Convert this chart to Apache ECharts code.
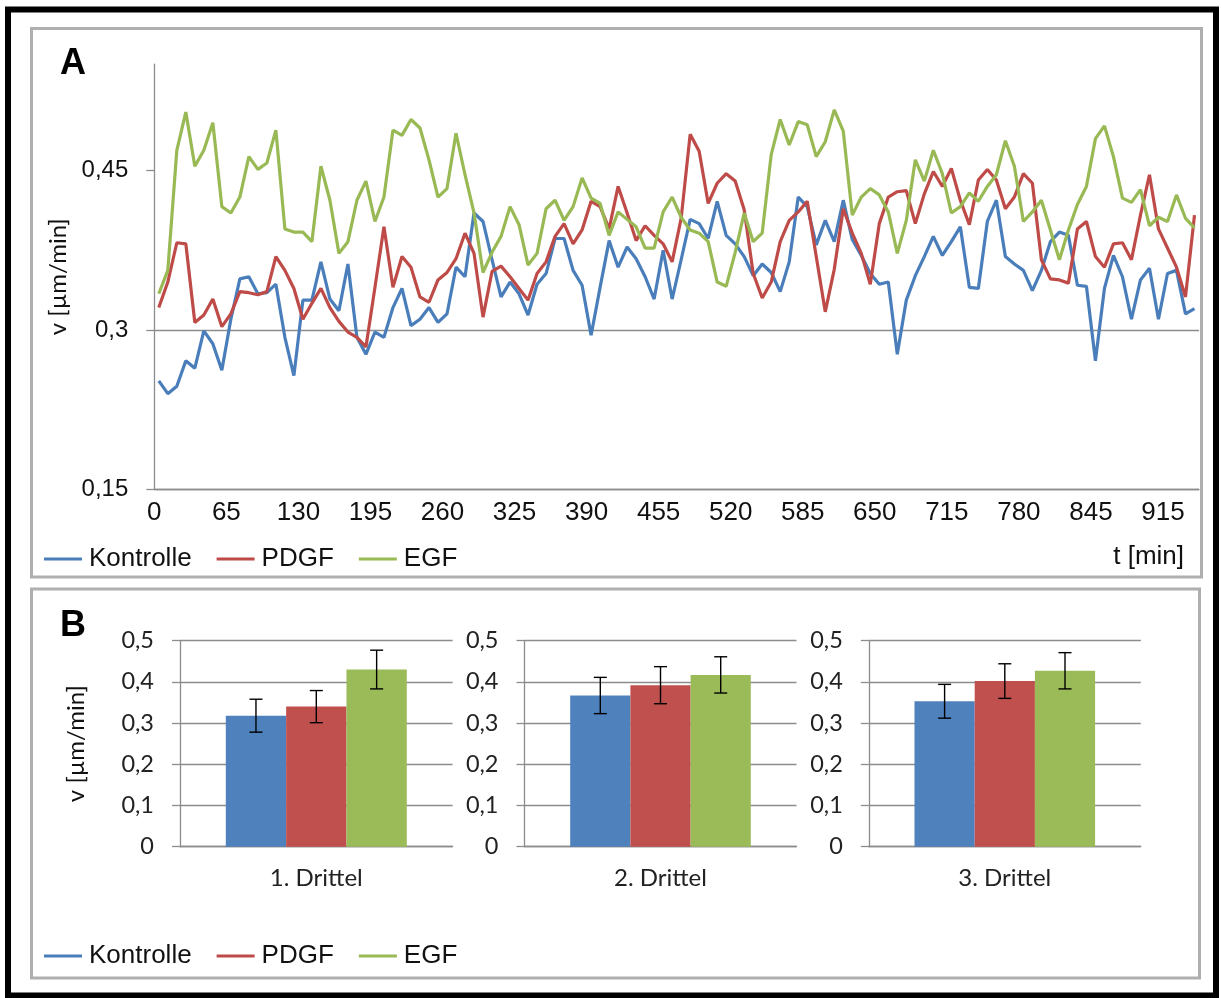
<!DOCTYPE html>
<html>
<head>
<meta charset="utf-8">
<script src="https://cdn.jsdelivr.net/npm/echarts@6/dist/echarts.min.js"></script>
<style>
html,body{margin:0;padding:0;background:#fff;}
#chart{width:1221px;height:998px;}
</style>
</head>
<body>
<div id="chart"></div>
<script>
// ---------- Panel A data (t every ~8 min, 116 samples) ----------
const kontrolle = [0.252,0.240,0.247,0.271,0.264,0.299,0.287,0.262,0.310,0.348,
0.350,0.334,0.335,0.343,0.293,0.257,0.328,0.328,0.364,0.329,
0.318,0.362,0.293,0.277,0.298,0.293,0.321,0.339,0.304,0.310,
0.321,0.307,0.315,0.359,0.350,0.410,0.402,0.366,0.331,0.345,
0.334,0.314,0.343,0.353,0.386,0.386,0.356,0.342,0.295,0.340,
0.384,0.359,0.378,0.367,0.350,0.329,0.375,0.329,0.366,0.404,
0.400,0.386,0.421,0.389,0.381,0.369,0.351,0.362,0.354,0.336,
0.364,0.425,0.416,0.380,0.403,0.383,0.422,0.385,0.370,0.353,
0.343,0.345,0.277,0.328,0.351,0.369,0.388,0.370,0.383,0.397,
0.340,0.339,0.402,0.422,0.369,0.362,0.356,0.337,0.356,0.383,
0.392,0.389,0.342,0.341,0.271,0.339,0.370,0.350,0.310,0.347,
0.358,0.310,0.353,0.356,0.315,0.320];
const pdgf = [0.321,0.345,0.382,0.381,0.307,0.314,0.329,0.303,0.315,0.336,
0.335,0.333,0.336,0.369,0.356,0.339,0.310,0.325,0.339,0.321,
0.308,0.298,0.293,0.284,0.340,0.397,0.340,0.369,0.359,0.331,
0.326,0.347,0.354,0.367,0.391,0.372,0.312,0.355,0.360,0.350,
0.339,0.328,0.353,0.364,0.388,0.400,0.381,0.394,0.421,0.416,
0.395,0.435,0.410,0.384,0.398,0.389,0.381,0.364,0.405,0.484,
0.468,0.419,0.438,0.447,0.440,0.413,0.353,0.330,0.345,0.383,
0.403,0.411,0.421,0.369,0.317,0.357,0.414,0.391,0.372,0.343,
0.400,0.425,0.430,0.431,0.400,0.428,0.449,0.435,0.452,0.422,
0.399,0.441,0.451,0.441,0.414,0.425,0.447,0.438,0.366,0.348,
0.347,0.344,0.395,0.402,0.369,0.359,0.381,0.382,0.366,0.408,
0.446,0.395,0.377,0.359,0.331,0.408];
const egf = [0.334,0.356,0.469,0.505,0.454,0.469,0.495,0.416,0.410,0.425,
0.463,0.451,0.457,0.488,0.395,0.392,0.392,0.383,0.454,0.422,
0.372,0.383,0.422,0.440,0.402,0.425,0.488,0.483,0.498,0.490,
0.460,0.425,0.433,0.485,0.446,0.410,0.354,0.373,0.388,0.416,
0.399,0.361,0.372,0.414,0.422,0.403,0.416,0.443,0.424,0.419,
0.389,0.411,0.404,0.397,0.377,0.377,0.411,0.425,0.406,0.394,
0.391,0.383,0.345,0.341,0.373,0.410,0.383,0.391,0.465,0.498,
0.474,0.496,0.493,0.463,0.477,0.507,0.487,0.408,0.425,0.433,
0.427,0.411,0.372,0.403,0.460,0.440,0.469,0.447,0.410,0.416,
0.429,0.421,0.435,0.446,0.478,0.454,0.402,0.411,0.422,0.394,
0.366,0.394,0.418,0.435,0.480,0.492,0.463,0.424,0.420,0.432,
0.398,0.406,0.402,0.427,0.405,0.396];
const tickLabels = ['0','65','130','195','260','325','390','455','520','585','650','715','780','845','915'];
const samplesPerTick = 8;
const yTicksA = [0.15, 0.3, 0.45];

// ---------- Panel B data ----------
const thirds = ['1. Drittel','2. Drittel','3. Drittel'];
const barKontrolle = [0.318, 0.367, 0.353];
const barPdgf      = [0.340, 0.392, 0.402];
const barEgf       = [0.430, 0.417, 0.427];
const errKontrolle = [0.040, 0.044, 0.041];
const errPdgf      = [0.039, 0.045, 0.042];
const errEgf       = [0.047, 0.044, 0.044];

const names = ['Kontrolle','PDGF','EGF'];
const lineColors = ['#4A7EBB','#BE4B48','#98B954'];
const barColors = ['#4F81BD','#C0504D','#9BBB59'];
const gridGray = '#8C8C8C';
const fontA = '"Liberation Sans", Arial, sans-serif';
const fontB = 'Lato, "Open Sans", sans-serif';
const comma = v => String(+(+v).toFixed(2)).replace('.', ',');

const categories = kontrolle.map((_, i) => i);
const BAR_GAP = '33.6%';
const gapFrac = 0.336;

const chart = echarts.init(document.getElementById('chart'), null, {renderer: 'canvas'});

const grids = [
  {left: 154.3, top: 64.2, width: 1044.7, height: 425.1, outerBoundsMode: 'none'},
  {left: 180, top: 640.7, width: 272.6, height: 206, outerBoundsMode: 'none'},
  {left: 524.5, top: 640.7, width: 272, height: 206, outerBoundsMode: 'none'},
  {left: 868.8, top: 640.7, width: 272, height: 206, outerBoundsMode: 'none'}
];

const xAxes = [{
  type: 'category', gridIndex: 0, data: categories, boundaryGap: true,
  axisLine: {lineStyle: {color: gridGray, width: 1.3}},
  axisTick: {interval: samplesPerTick - 1, length: 8, lineStyle: {color: gridGray, width: 1.3}},
  axisLabel: {
    interval: samplesPerTick - 1, margin: 11, color: '#111', fontSize: 26, fontFamily: fontA,
    padding: [0, 9, 0, 0],
    formatter: (v, i) => (i % samplesPerTick === 0 && tickLabels[i / samplesPerTick] !== undefined) ? tickLabels[i / samplesPerTick] : ''
  },
  splitLine: {show: false}
}];
const yAxes = [{
  type: 'value', gridIndex: 0, min: 0.15, max: 0.55, interval: 0.15,
  name: 'v [µm/min]', nameLocation: 'middle', nameGap: 84, nameRotate: 90,
  nameTextStyle: {fontSize: 24, fontFamily: fontB, color: '#111'},
  axisLine: {show: true, lineStyle: {color: gridGray, width: 1.3}},
  axisTick: {show: true, length: 8, customValues: yTicksA, lineStyle: {color: gridGray, width: 1.3}},
  axisLabel: {margin: 26, color: '#111', fontSize: 24, fontFamily: fontA, customValues: yTicksA, formatter: comma},
  splitLine: {show: true, showMaxLine: false, lineStyle: {color: gridGray, width: 1.3}}
}];

for (let k = 0; k < 3; k++) {
  xAxes.push({
    type: 'category', gridIndex: k + 1, data: [thirds[k]], boundaryGap: true,
    axisLine: {lineStyle: {color: gridGray, width: 1.3}},
    axisTick: {length: 8, lineStyle: {color: gridGray, width: 1.3}},
    axisLabel: {margin: 20, color: '#222', fontSize: 24, fontFamily: fontB}
  });
  yAxes.push({
    type: 'value', gridIndex: k + 1, min: 0, max: 0.5, interval: 0.1,
    name: k === 0 ? 'v [µm/min]' : '', nameLocation: 'middle', nameGap: 92, nameRotate: 90,
    nameTextStyle: {fontSize: 24, fontFamily: fontB, color: '#111'},
    axisLine: {show: true, lineStyle: {color: gridGray, width: 1.3}},
    axisTick: {show: true, length: 8, lineStyle: {color: gridGray, width: 1.3}},
    axisLabel: {margin: 26, color: '#222', fontSize: 23.5, fontFamily: fontB, formatter: comma},
    splitLine: {show: true, lineStyle: {color: gridGray, width: 1.3}}
  });
}

const series = [];
[kontrolle, pdgf, egf].forEach((arr, s) => {
  series.push({
    type: 'line', name: names[s], xAxisIndex: 0, yAxisIndex: 0, data: arr,
    symbol: 'none', smooth: false, animation: false,
    lineStyle: {color: lineColors[s], width: 3.2}, itemStyle: {color: lineColors[s]}
  });
});

const barSets = [barKontrolle, barPdgf, barEgf];
const errSets = [errKontrolle, errPdgf, errEgf];
for (let k = 0; k < 3; k++) {
  barSets.forEach((arr, s) => {
    series.push({
      type: 'bar', name: names[s], xAxisIndex: k + 1, yAxisIndex: k + 1,
      data: [arr[k]], barGap: '0%', barCategoryGap: BAR_GAP, animation: false,
      itemStyle: {color: barColors[s]}
    });
  });
  series.push({
    type: 'custom', xAxisIndex: k + 1, yAxisIndex: k + 1, animation: false, z: 10,
    data: barSets.map((arr, s) => [0, arr[k], errSets[s][k], s]),
    renderItem: (params, api) => {
      const mean = api.value(1), err = api.value(2), s = api.value(3);
      const band = api.size([1, 0])[0];
      const bw = band * (1 - gapFrac) / 3;
      const cx = api.coord([0, mean])[0] + (s - 1) * bw;
      const yT = api.coord([0, mean + err])[1];
      const yB = api.coord([0, mean - err])[1];
      const cap = 6.5;
      const st = {stroke: '#000', lineWidth: 1.4};
      return {type: 'group', children: [
        {type: 'line', shape: {x1: cx, y1: yT, x2: cx, y2: yB}, style: st},
        {type: 'line', shape: {x1: cx - cap, y1: yT, x2: cx + cap, y2: yT}, style: st},
        {type: 'line', shape: {x1: cx - cap, y1: yB, x2: cx + cap, y2: yB}, style: st}
      ]};
    }
  });
}

const legendCommon = {
  orient: 'horizontal', icon: 'rect', itemWidth: 38, itemHeight: 3, itemGap: 25,
  padding: 0, selectedMode: false, data: names,
  textStyle: {fontSize: 26, fontFamily: fontA, color: '#111', padding: [0, 0, 0, 2]}
};

const option = {
  backgroundColor: '#fff',
  animation: false,
  grid: grids,
  xAxis: xAxes,
  yAxis: yAxes,
  legend: [
    Object.assign({left: 44, top: 546}, legendCommon),
    Object.assign({left: 44, top: 943}, legendCommon)
  ],
  graphic: [
    {type: 'rect', shape: {x: 8, y: 9.5, width: 1208, height: 986}, style: {fill: null, stroke: '#000', lineWidth: 6}, z: 100},
    {type: 'rect', shape: {x: 31.5, y: 28.5, width: 1170, height: 548.5}, style: {fill: null, stroke: '#AFAFAF', lineWidth: 3}, z: 1},
    {type: 'rect', shape: {x: 31.5, y: 589, width: 1168, height: 389}, style: {fill: null, stroke: '#AFAFAF', lineWidth: 3}, z: 1},
    {type: 'text', left: 60, top: 46, style: {text: 'A', font: 'bold 36px "Liberation Sans", Arial, sans-serif', fill: '#000'}},
    {type: 'text', left: 60, top: 608, style: {text: 'B', font: 'bold 36px "Liberation Sans", Arial, sans-serif', fill: '#000'}},
    {type: 'text', right: 37, top: 544, style: {text: 't [min]', font: '26px "Liberation Sans", Arial, sans-serif', fill: '#111'}}
  ],
  series: series
};
chart.setOption(option);
</script>
</body>
</html>
